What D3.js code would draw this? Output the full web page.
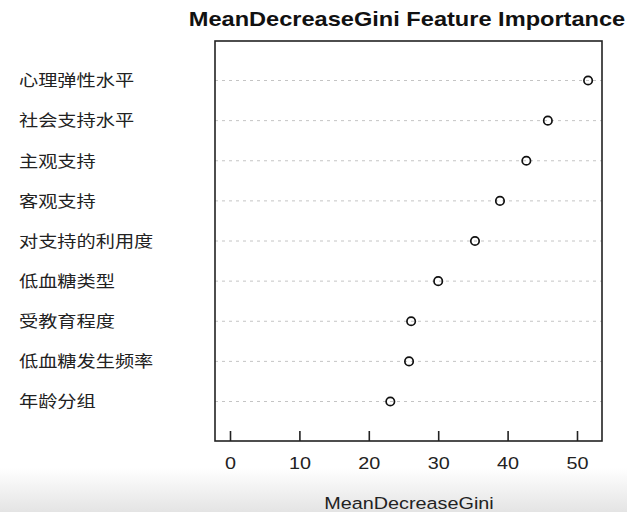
<!DOCTYPE html>
<html>
<head>
<meta charset="utf-8">
<script src="https://cdn.jsdelivr.net/npm/d3@7"></script>
<style>
  body { margin: 0; background: #fff; }
  svg { display: block; }
</style>
</head>
<body>
<script>
// feature names, top to bottom, and their MeanDecreaseGini values
const features = ["心理弹性水平", "社会支持水平", "主观支持", "客观支持", "对支持的利用度",
                  "低血糖类型", "受教育程度", "低血糖发生频率", "年龄分组"];
const gini = [51.6, 45.8, 42.7, 38.9, 35.3, 30.0, 26.1, 25.8, 23.1];
const xTicks = [0, 10, 20, 30, 40, 50];

const W = 627, H = 512;
const box = {left: 215, right: 602, top: 41, bottom: 441};
const SX = 1.2; // the photo is stretched sideways, text included

const svg = d3.select("body").append("svg").attr("width", W).attr("height", H);

// faint grey band at the bottom of the photo
const grad = svg.append("defs").append("linearGradient")
    .attr("id", "fade").attr("x1", 0).attr("y1", 0).attr("x2", 0).attr("y2", 1);
grad.append("stop").attr("offset", 0).attr("stop-color", "#ffffff");
grad.append("stop").attr("offset", 1).attr("stop-color", "#e4e4e4");
svg.append("rect").attr("x", 0).attr("y", 468).attr("width", W).attr("height", H - 468)
    .attr("fill", "url(#fade)");

const x = d3.scaleLinear().domain([0, 50]).range([230, 577]);
const y = d3.scalePoint().domain(features).range([80.5, 401.5]);

// dotted guide lines
svg.append("g").selectAll("line").data(features).join("line")
    .attr("x1", box.left).attr("x2", box.right)
    .attr("y1", d => y(d)).attr("y2", d => y(d))
    .attr("stroke", "#c4c4c4").attr("stroke-width", 1).attr("stroke-dasharray", "3,4");

// plot box
svg.append("rect")
    .attr("x", box.left).attr("y", box.top)
    .attr("width", box.right - box.left).attr("height", box.bottom - box.top)
    .attr("fill", "none").attr("stroke", "#222").attr("stroke-width", 1.6);

// x axis with inward ticks
const ax = svg.append("g").attr("transform", `translate(0,${box.bottom})`)
    .call(d3.axisBottom(x).tickValues(xTicks).tickSizeInner(-10).tickSizeOuter(0).tickPadding(16));
ax.select(".domain").remove();
ax.selectAll(".tick line").attr("stroke", "#222").attr("stroke-width", 1.6);
ax.selectAll(".tick text")
    .attr("font-family", "Liberation Sans, Arial, sans-serif")
    .attr("font-size", 16.5).attr("fill", "#222")
    .attr("transform", `scale(${SX},1)`);

// points
svg.append("g").selectAll("circle").data(features).join("circle")
    .attr("cx", (d, i) => x(gini[i])).attr("cy", d => y(d)).attr("r", 4.2)
    .attr("fill", "none").attr("stroke", "#111").attr("stroke-width", 1.7);

// row labels
svg.append("g").selectAll("text").data(features).join("text")
    .attr("transform", d => `translate(19,${y(d)}) scale(${SX},1)`)
    .attr("dy", "0.36em")
    .attr("font-family", "Noto Sans CJK SC, sans-serif")
    .attr("font-size", 16).attr("fill", "#222")
    .text(d => d);

// title
svg.append("text").attr("transform", `translate(407,26) scale(1.18,1)`)
    .attr("text-anchor", "middle")
    .attr("font-family", "Liberation Sans, Arial, sans-serif")
    .attr("font-size", 20).attr("font-weight", "bold").attr("fill", "#111")
    .text("MeanDecreaseGini Feature Importance");

// axis title
svg.append("text").attr("transform", `translate(409,509) scale(${SX},1)`)
    .attr("text-anchor", "middle")
    .attr("font-family", "Liberation Sans, Arial, sans-serif")
    .attr("font-size", 16.5).attr("fill", "#222")
    .text("MeanDecreaseGini");
</script>
</body>
</html>
